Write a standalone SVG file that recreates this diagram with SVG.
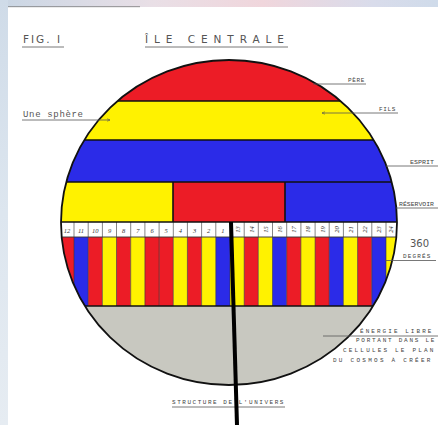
<svg xmlns="http://www.w3.org/2000/svg" width="438" height="425" viewBox="0 0 438 425">
<defs>
<linearGradient id="topg" x1="0" y1="0" x2="1" y2="0">
<stop offset="0" stop-color="#c9d6e4"/><stop offset="0.35" stop-color="#e9dfe6"/><stop offset="0.6" stop-color="#f0d6dc"/><stop offset="0.85" stop-color="#d9dceb"/><stop offset="1" stop-color="#cfdbea"/>
</linearGradient>
<linearGradient id="leftg" x1="0" y1="0" x2="0" y2="1">
<stop offset="0" stop-color="#cfdbe8"/><stop offset="0.5" stop-color="#dde6ef"/><stop offset="1" stop-color="#e6ecf2"/>
</linearGradient>
<clipPath id="disc"><ellipse cx="229" cy="222.5" rx="168" ry="162.5"/></clipPath>
<marker id="tip" viewBox="0 0 6 6" refX="5" refY="3" markerWidth="5" markerHeight="5" orient="auto"><path d="M0,0.8 L5,3 L0,5.2" fill="none" stroke="#555" stroke-width="0.8"/></marker>
<style>
.lbl{font-family:"Liberation Mono","DejaVu Sans Mono",monospace;fill:#444;font-size:6px;letter-spacing:1.6px}
.tight{letter-spacing:0}
.ttl{font-family:"DejaVu Sans","Liberation Sans",sans-serif;fill:#555;font-size:10.5px;letter-spacing:3px}
.num{font-family:"Liberation Serif",serif;font-style:italic;fill:#333;font-size:6.5px;text-anchor:middle}
.ln{stroke:#555;stroke-width:0.8;fill:none}
.edge{stroke:#111;stroke-width:1.6}
.thin{stroke:#333;stroke-width:0.6}
.R{fill:#ec1c26}.Y{fill:#fff200}.B{fill:#2b2be8}.G{fill:#c8c8c0}
</style>
</defs>
<rect width="438" height="425" fill="#ffffff"/>
<rect x="0" y="0" width="438" height="7" fill="url(#topg)"/>
<rect x="0" y="0" width="8" height="425" fill="url(#leftg)"/>
<line x1="8" y1="6.7" x2="140" y2="6.7" stroke="#777" stroke-width="0.8"/>

<g id="titles">
<text class="ttl" x="23" y="43" font-size="9" textLength="40">FIG. I</text>
<line class="ln" x1="22" y1="47" x2="64" y2="47"/>
<text class="ttl" x="145" y="43" textLength="142">ÎLE   CENTRALE</text>
<line class="ln" x1="145" y1="47" x2="288" y2="47"/>
</g>

<g id="sphere">
<g clip-path="url(#disc)">
<rect class="R" x="50" y="50" width="360" height="51"/>
<rect class="Y" x="50" y="101" width="360" height="39"/>
<rect class="B" x="50" y="140" width="360" height="42"/>
<rect class="Y" x="50" y="182" width="123" height="40"/>
<rect class="R" x="173" y="182" width="112" height="40"/>
<rect class="B" x="285" y="182" width="125" height="40"/>
<rect x="50" y="222" width="360" height="15" fill="#fff"/>
<g id="stripes">
<rect class="R" x="40" y="237" width="34" height="69"/>
<rect class="B" x="74" y="237" width="14.2" height="69"/>
<rect class="R" x="88.2" y="237" width="14.2" height="69"/>
<rect class="Y" x="102.4" y="237" width="14.1" height="69"/>
<rect class="R" x="116.5" y="237" width="14.2" height="69"/>
<rect class="Y" x="130.7" y="237" width="14.2" height="69"/>
<rect class="R" x="144.9" y="237" width="14.2" height="69"/>
<rect class="R" x="159.1" y="237" width="14.2" height="69"/>
<rect class="Y" x="173.3" y="237" width="14.1" height="69"/>
<rect class="R" x="187.4" y="237" width="14.2" height="69"/>
<rect class="Y" x="201.6" y="237" width="14.2" height="69"/>
<rect class="B" x="215.8" y="237" width="14.2" height="69"/>
<rect class="Y" x="230" y="237" width="14.2" height="69"/>
<rect class="R" x="244.2" y="237" width="14.1" height="69"/>
<rect class="Y" x="258.3" y="237" width="14.2" height="69"/>
<rect class="B" x="272.5" y="237" width="14.2" height="69"/>
<rect class="R" x="286.7" y="237" width="14.2" height="69"/>
<rect class="Y" x="300.9" y="237" width="14.2" height="69"/>
<rect class="R" x="315.1" y="237" width="14.1" height="69"/>
<rect class="B" x="329.2" y="237" width="14.2" height="69"/>
<rect class="Y" x="343.4" y="237" width="14.2" height="69"/>
<rect class="R" x="357.6" y="237" width="14.2" height="69"/>
<rect class="B" x="371.8" y="237" width="14.2" height="69"/>
<rect class="Y" x="386" y="237" width="30" height="69"/>
</g>
<rect class="G" x="40" y="306" width="380" height="90"/>
<g id="dividers" class="thin">
<path d="M74,222V306M88.2,222V306M102.4,222V306M116.5,222V306M130.7,222V306M144.9,222V306M159.1,222V306M173.3,222V306M187.4,222V306M201.6,222V306M215.8,222V306M230,222V306M244.2,222V306M258.3,222V306M272.5,222V306M286.7,222V306M300.9,222V306M315.1,222V306M329.2,222V306M343.4,222V306M357.6,222V306M371.8,222V306M386,222V306"/>
</g>
<g class="edge">
<line x1="40" y1="101" x2="420" y2="101"/>
<line x1="40" y1="140" x2="420" y2="140"/>
<line x1="40" y1="182" x2="420" y2="182"/>
<line x1="40" y1="222" x2="420" y2="222"/>
<line x1="173" y1="182" x2="173" y2="222"/>
<line x1="285" y1="182" x2="285" y2="222"/>
<line x1="40" y1="306" x2="420" y2="306"/>
</g>
<line x1="40" y1="237" x2="420" y2="237" stroke="#333" stroke-width="0.9"/>
<g id="numbers">
<text class="num" x="67" y="233">12</text>
<text class="num" x="81" y="233">11</text>
<text class="num" x="95.3" y="233">10</text>
<text class="num" x="109.5" y="233">9</text>
<text class="num" x="123.6" y="233">8</text>
<text class="num" x="137.8" y="233">7</text>
<text class="num" x="152" y="233">6</text>
<text class="num" x="166.2" y="233">5</text>
<text class="num" x="180.4" y="233">4</text>
<text class="num" x="194.5" y="233">3</text>
<text class="num" x="208.7" y="233">2</text>
<text class="num" x="222.9" y="233">1</text>
<text class="num" transform="translate(239.5,229.5) rotate(-90)">13</text>
<text class="num" transform="translate(253.6,229.5) rotate(-90)">14</text>
<text class="num" transform="translate(267.8,229.5) rotate(-90)">15</text>
<text class="num" transform="translate(282,229.5) rotate(-90)">16</text>
<text class="num" transform="translate(296.2,229.5) rotate(-90)">17</text>
<text class="num" transform="translate(310.4,229.5) rotate(-90)">18</text>
<text class="num" transform="translate(324.5,229.5) rotate(-90)">19</text>
<text class="num" transform="translate(338.7,229.5) rotate(-90)">20</text>
<text class="num" transform="translate(352.9,229.5) rotate(-90)">21</text>
<text class="num" transform="translate(367.1,229.5) rotate(-90)">22</text>
<text class="num" transform="translate(381.3,229.5) rotate(-90)">23</text>
<text class="num" transform="translate(393,229.5) rotate(-90)">24</text>
</g>
</g>
<ellipse cx="229" cy="222.5" rx="168" ry="162.5" fill="none" stroke="#111" stroke-width="1.8"/>
</g>

<g id="connectors">
<line class="ln" x1="22" y1="120" x2="110" y2="120" marker-end="url(#tip)"/>
<line class="ln" x1="313" y1="84" x2="366" y2="84"/>
<line class="ln" x1="398" y1="113" x2="322" y2="113" marker-end="url(#tip)"/>
<line class="ln" x1="386" y1="166" x2="438" y2="166"/>
<line class="ln" x1="396" y1="208" x2="438" y2="208"/>
<line class="ln" x1="385" y1="260.5" x2="436" y2="260.5"/>
<line class="ln" x1="323" y1="336" x2="438" y2="336"/>
<line class="ln" x1="172" y1="407" x2="285" y2="407"/>
<line x1="231" y1="222" x2="237" y2="425" stroke="#000" stroke-width="4"/>
</g>

<g id="label-sphere"><text x="23" y="117" font-family="Liberation Mono, monospace" font-size="9" fill="#555" textLength="60">Une sphère</text></g>
<g id="label-pere"><text class="lbl" x="348" y="82" textLength="18">PÈRE</text></g>
<g id="label-fils"><text class="lbl" x="379" y="111" textLength="18">FILS</text></g>
<g id="label-esprit"><text class="lbl tight" x="410" y="164" textLength="24" lengthAdjust="spacingAndGlyphs">ESPRIT</text></g>
<g id="label-reservoir"><text class="lbl tight" x="399" y="206" textLength="35" lengthAdjust="spacingAndGlyphs">RÉSERVOIR</text></g>
<g id="label-degres">
<text x="410" y="247" font-family="DejaVu Sans, sans-serif" font-size="10" fill="#555">360</text>
<text class="lbl" x="403" y="258" textLength="29">DEGRÉS</text>
</g>
<g id="label-energie">
<text class="lbl" x="360" y="333" textLength="73">ÉNERGIE  LIBRE</text>
<text class="lbl" x="356" y="342" textLength="80">PORTANT  DANS  LE</text>
<text class="lbl" x="343" y="352" textLength="92">CELLULES  LE  PLAN</text>
<text class="lbl" x="333" y="362" textLength="99">DU COSMOS  À  CRÉER</text>
</g>
<g id="label-structure"><text class="lbl" x="172" y="404" textLength="113">STRUCTURE DE L'UNIVERS</text></g>
</svg>
